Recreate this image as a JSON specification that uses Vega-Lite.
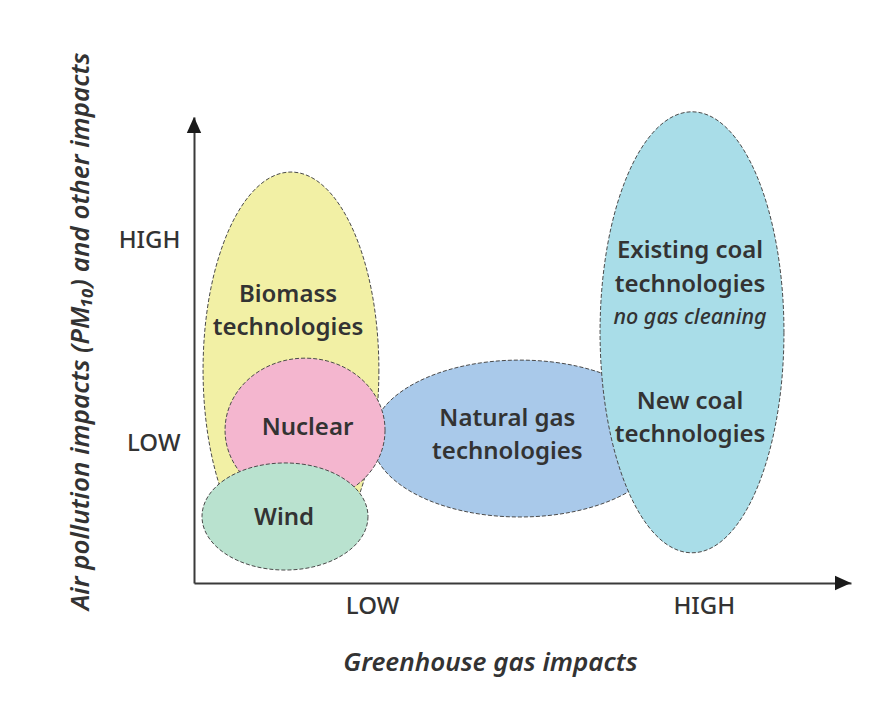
{
  "$schema": "https://vega.github.io/schema/vega-lite/v6.json",
  "width": 657,
  "height": 466,
  "autosize": "none",
  "padding": {"left": 194, "top": 117, "right": 42, "bottom": 123},
  "background": "white",
  "config": {
    "view": {"stroke": null},
    "font": "Noto Sans",
    "axis": {
      "domainColor": "#3a3a3a",
      "domainWidth": 2,
      "ticks": false,
      "grid": false,
      "labelFont": "Noto Sans",
      "labelFontSize": 24,
      "labelColor": "#333333",
      "labelFontWeight": 500,
      "titleFont": "Noto Sans",
      "titleFontSize": 26,
      "titleFontStyle": "italic",
      "titleFontWeight": 600,
      "titleColor": "#333333"
    }
  },
  "datasets": {
    "ellipses": [
      {"tech": "Biomass", "x": 14.76, "y": 45.7},
      {"tech": "Natural gas", "x": 49.6, "y": 31.0},
      {"tech": "Coal", "x": 75.8, "y": 53.8},
      {"tech": "Nuclear", "x": 16.9, "y": 32.8},
      {"tech": "Wind", "x": 13.85, "y": 14.27}
    ],
    "labels": [
      {"label": "Biomass", "x": 14.31, "y": 61.8, "role": "name"},
      {"label": "technologies", "x": 14.31, "y": 54.7, "role": "name"},
      {"label": "Nuclear", "x": 17.28, "y": 33.26, "role": "name"},
      {"label": "Wind", "x": 13.7, "y": 14.0, "role": "name"},
      {"label": "Natural gas", "x": 47.7, "y": 35.2, "role": "name"},
      {"label": "technologies", "x": 47.7, "y": 28.1, "role": "name"},
      {"label": "Existing coal", "x": 75.5, "y": 71.2, "role": "name"},
      {"label": "technologies", "x": 75.5, "y": 63.9, "role": "name"},
      {"label": "no gas cleaning", "x": 75.5, "y": 56.9, "role": "note"},
      {"label": "New coal", "x": 75.5, "y": 38.8, "role": "name"},
      {"label": "technologies", "x": 75.5, "y": 31.8, "role": "name"}
    ],
    "arrows": [
      {"axis": "y", "x": 0, "y": 100},
      {"axis": "x", "x": 100, "y": 0}
    ]
  },
  "encoding": {
    "x": {
      "field": "x",
      "type": "quantitative",
      "scale": {"domain": [0, 100], "nice": false, "zero": false},
      "axis": {
        "title": "Greenhouse gas impacts",
        "values": [27.1, 77.6],
        "labelExpr": "datum.value < 50 ? 'LOW' : 'HIGH'",
        "labelPadding": 11,
        "titleX": 296,
        "titleY": 79,
        "titleAnchor": null,
        "titleAlign": "center",
        "titleBaseline": "middle"
      }
    },
    "y": {
      "field": "y",
      "type": "quantitative",
      "scale": {"domain": [0, 100], "nice": false, "zero": false},
      "axis": {
        "title": "Air pollution impacts (PM₁₀) and other impacts",
        "values": [30.0, 73.6],
        "labelExpr": "datum.value < 50 ? 'LOW' : 'HIGH'",
        "labelPadding": 14,
        "titleX": -114,
        "titleY": 214,
        "titleAngle": 270,
        "titleAlign": "center",
        "titleBaseline": "middle"
      }
    }
  },
  "layer": [
    {
      "data": {"name": "ellipses"},
      "transform": [{"filter": "datum.tech === 'Biomass'"}],
      "mark": {"type": "point", "filled": true, "opacity": 1, "fill": "#f2f0a5", "stroke": "#4a4a4a", "strokeWidth": 1, "strokeDash": [4, 2], "size": 156816,
        "shape": "M 0.444 0 C 0.444 0.5523 0.2452 1 0 1 C -0.2452 1 -0.444 0.5523 -0.444 0 C -0.444 -0.5523 -0.2452 -1 0 -1 C 0.2452 -1 0.444 -0.5523 0.444 0 Z"}
    },
    {
      "data": {"name": "ellipses"},
      "transform": [{"filter": "datum.tech === 'Natural gas'"}],
      "mark": {"type": "point", "filled": true, "opacity": 1, "fill": "#a9c9ea", "stroke": "#4a4a4a", "strokeWidth": 1, "strokeDash": [4, 2], "size": 87616,
        "shape": "M 1 0 C 1 0.2927 0.5523 0.53 0 0.53 C -0.5523 0.53 -1 0.2927 -1 0 C -1 -0.2927 -0.5523 -0.53 0 -0.53 C 0.5523 -0.53 1 -0.2927 1 0 Z"}
    },
    {
      "data": {"name": "ellipses"},
      "transform": [{"filter": "datum.tech === 'Coal'"}],
      "mark": {"type": "point", "filled": true, "opacity": 1, "fill": "#a9dde8", "stroke": "#4a4a4a", "strokeWidth": 1, "strokeDash": [4, 2], "size": 194481,
        "shape": "M 0.417 0 C 0.417 0.5523 0.2303 1 0 1 C -0.2303 1 -0.417 0.5523 -0.417 0 C -0.417 -0.5523 -0.2303 -1 0 -1 C 0.2303 -1 0.417 -0.5523 0.417 0 Z"}
    },
    {
      "data": {"name": "ellipses"},
      "transform": [{"filter": "datum.tech === 'Nuclear'"}],
      "mark": {"type": "point", "filled": true, "opacity": 1, "fill": "#f4b6cf", "stroke": "#4a4a4a", "strokeWidth": 1, "strokeDash": [4, 2], "size": 25600,
        "shape": "M 1 0 C 1 0.4971 0.5523 0.9 0 0.9 C -0.5523 0.9 -1 0.4971 -1 0 C -1 -0.4971 -0.5523 -0.9 0 -0.9 C 0.5523 -0.9 1 -0.4971 1 0 Z"}
    },
    {
      "data": {"name": "ellipses"},
      "transform": [{"filter": "datum.tech === 'Wind'"}],
      "mark": {"type": "point", "filled": true, "opacity": 1, "fill": "#b9e2cf", "stroke": "#4a4a4a", "strokeWidth": 1, "strokeDash": [4, 2], "size": 27556,
        "shape": "M 1 0 C 1 0.3562 0.5523 0.645 0 0.645 C -0.5523 0.645 -1 0.3562 -1 0 C -1 -0.3562 -0.5523 -0.645 0 -0.645 C 0.5523 -0.645 1 -0.3562 1 0 Z"}
    },
    {
      "data": {"name": "labels"},
      "transform": [{"filter": "datum.role === 'name'"}],
      "mark": {"type": "text", "font": "Noto Sans", "fontSize": 24, "fontWeight": 600, "color": "#333333", "align": "center", "baseline": "middle"},
      "encoding": {"text": {"field": "label"}}
    },
    {
      "data": {"name": "labels"},
      "transform": [{"filter": "datum.role === 'note'"}],
      "mark": {"type": "text", "font": "Noto Sans", "fontSize": 21.5, "fontStyle": "italic", "fontWeight": 500, "color": "#333333", "align": "center", "baseline": "middle"},
      "encoding": {"text": {"field": "label"}}
    },
    {
      "data": {"name": "arrows"},
      "transform": [{"filter": "datum.axis === 'y'"}],
      "mark": {"type": "point", "filled": true, "opacity": 1, "fill": "#1a1a1a", "strokeWidth": 0, "size": 256, "shape": "M 0 0 L 0.9 2 L -0.9 2 Z", "clip": false}
    },
    {
      "data": {"name": "arrows"},
      "transform": [{"filter": "datum.axis === 'x'"}],
      "mark": {"type": "point", "filled": true, "opacity": 1, "fill": "#1a1a1a", "strokeWidth": 0, "size": 256, "shape": "M 0 0 L -2 -0.9 L -2 0.9 Z", "clip": false}
    }
  ]
}
